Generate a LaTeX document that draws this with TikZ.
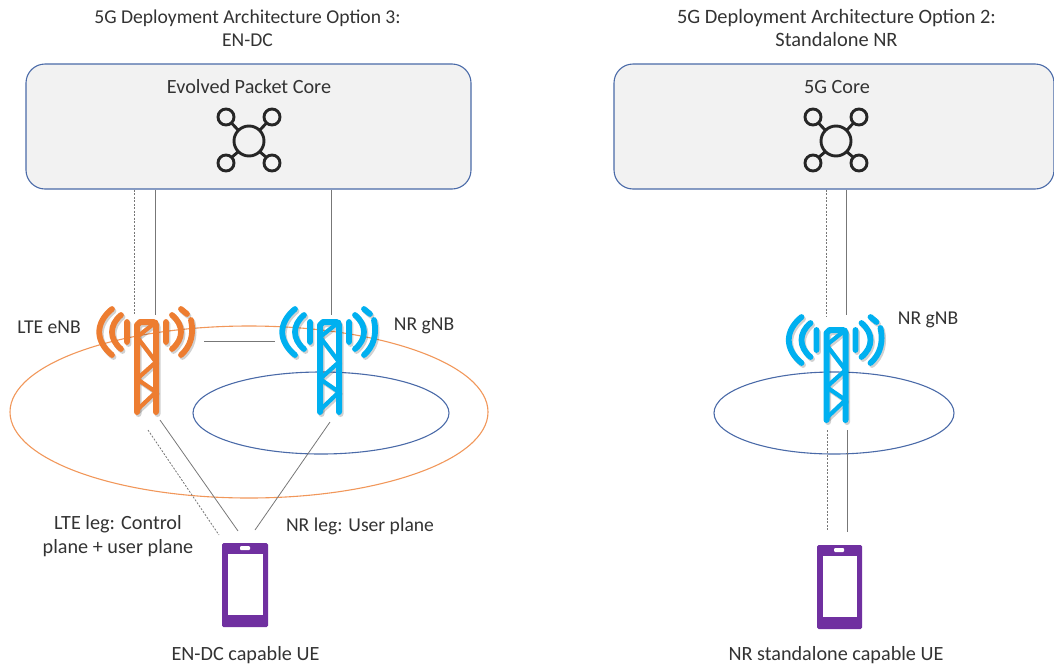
\documentclass[tikz,border=0pt]{standalone}
\usepackage{fontspec}
\setmainfont{Carlito}
\definecolor{boxfill}{HTML}{F2F2F2}
\definecolor{boxline}{HTML}{4A6AA8}
\definecolor{orangec}{HTML}{ED7D31}
\definecolor{bluec}{HTML}{00B0F0}
\definecolor{purplec}{HTML}{7030A0}
\definecolor{textc}{HTML}{333333}
\definecolor{linkc}{HTML}{777777}
\tikzset{
  x=1pt,y=-1pt,
  corebox/.style={draw=boxline,fill=boxfill,line width=1.1pt,rounded corners=19pt,inner sep=0pt},
  lab/.style={text=textc,font=\fontsize{19.6}{23}\selectfont,align=center,inner sep=0pt},
  labbig/.style={text=textc,font=\fontsize{20.2}{24.5}\selectfont,align=center,inner sep=0pt},
  labwide/.style={text=textc,font=\fontsize{20.4}{23}\selectfont,align=center,inner sep=0pt},
  cell/.style={line width=1.1pt},
  linksolid/.style={draw=linkc,line width=0.8pt},
  linkdash/.style={draw=linkc,line width=0.8pt,dash pattern=on 2pt off 1.5pt},
  anchorbox/.style={minimum width=100pt,minimum height=110pt,inner sep=0pt,draw=none,fill=none},
  phonebox/.style={fill=purplec,rounded corners=1.5pt,inner sep=0pt,minimum width=46pt,minimum height=84pt},
  pics/mesh/.style={code={
    \draw[line width=2.9pt,black!85]
      (0,0) circle[radius=15]
      (-23,-24) circle[radius=8] (23,-24) circle[radius=8]
      (-23,22) circle[radius=8] (23,22) circle[radius=8]
      (-10.5,-10.5) -- (-17.5,-18) (10.5,-10.5) -- (17.5,-18)
      (-10.5,10.5) -- (-17.5,16.5) (10.5,10.5) -- (17.5,16.5);
  }},
  pics/towerlines/.style={code={
    \draw[line width=6pt,line cap=round,line join=round,#1]
      (-10,90) -- (-10,3) -- (-7,0) -- (7,0) -- (9,3) -- (9,90);
    \draw[line width=4.2pt,line cap=round,line join=round,#1]
      (-10,15) -- (9,0) (-10,15) -- (9,40) -- (-10,57) -- (9,70) -- (-10,88);
    \draw[line width=5.8pt,line cap=round,line join=round,#1]
      (-20,0) -- (-20,20) (19,0) -- (19,20)
      (-26,-7) .. controls (-38,3) and (-38,17) .. (-26,27)
      (25,-7) .. controls (37,3) and (37,17) .. (25,27)
      (-35,-13) .. controls (-52,1) and (-52,19) .. (-35,33)
      (34,-13) -- (40,-8)
      (44,-2) .. controls (47,12) and (44,24) .. (34,33);
  }},
  pics/tower/.style={code={
    \begin{scope}[xshift=1.5pt,yshift=-2pt,opacity=.18]
      \pic {towerlines={black}};
    \end{scope}
    \pic {towerlines={#1}};
  }},
}
\begin{document}
\begin{tikzpicture}
\useasboundingbox (0,0) rectangle (1054,667);
% cell ellipses
\draw[cell,draw=orangec!80] (249,412) ellipse[x radius=239,y radius=86];
\draw[cell,draw=boxline] (321,413) ellipse[x radius=128,y radius=41];
\draw[cell,draw=boxline] (834,413) ellipse[x radius=120,y radius=41];
% titles
\node[lab] (titleL) at (247.5,28) {5G Deployment Architecture Option 3:\\EN-DC};
\node[labwide] (titleR) at (836.5,28) {5G Deployment Architecture Option 2:\\Standalone NR};
% core boxes
\node[corebox,minimum width=445pt,minimum height=125pt] (epc) at (248.5,126.5) {};
\node[corebox,minimum width=440pt,minimum height=125pt] (fgc) at (834,126.5) {};
\node[labbig] (epcT) at (249,87) {Evolved Packet Core};
\node[labbig] (fgcT) at (837,87) {5G Core};
\pic at (249,141) {mesh};
\pic at (836,141) {mesh};
% link end coordinates
\coordinate (a1) at (134,315); \coordinate (a2) at (155,315); \coordinate (a3) at (331,315);
\coordinate (b1) at (204,341); \coordinate (b2) at (275,341);
\coordinate (c1) at (148,430); \coordinate (c2) at (219,535);
\coordinate (d1) at (160,420); \coordinate (d2) at (238,531);
\coordinate (e1) at (330,422); \coordinate (e2) at (255,530);
\coordinate (f1) at (826,316); \coordinate (f2) at (846,315);
\coordinate (g1) at (827,430); \coordinate (g2) at (827,530);
\coordinate (h1) at (847,430); \coordinate (h2) at (847,532);
% links
\draw[linkdash] (a1 |- epc.south) -- (a1);
\draw[linksolid] (a2 |- epc.south) -- (a2);
\draw[linksolid] (a3 |- epc.south) -- (a3);
\draw[linksolid] (b1) -- (b2);
\draw[linkdash] (c1) -- (c2);
\draw[linksolid] (d1) -- (d2);
\draw[linksolid] (e1) -- (e2);
\draw[linkdash] (f1 |- fgc.south) -- (f1);
\draw[linksolid] (f2 |- fgc.south) -- (f2);
\draw[linkdash] (g1) -- (g2);
\draw[linksolid] (h1) -- (h2);
% towers
\node[anchorbox] (lte) at (147,370) {};
\node[anchorbox] (gnbL) at (330,370) {};
\node[anchorbox] (gnbR) at (836.5,370) {};
\pic at (147,322) {tower={orangec}};
\pic at (330,322) {tower={bluec}};
\pic at (836.5,330) {tower={bluec}};
% phones
\node[phonebox] (ueL) at (245,585) {};
\node[phonebox,minimum width=45pt] (ueR) at (839.5,587) {};
\fill[white] (228,554) rectangle (263,615);
\fill[white,rounded corners=1pt] (240,546) rectangle (250,550);
\fill[white] (823,556) rectangle (857,617);
\fill[white,rounded corners=1pt] (834,548) rectangle (844,552);
% labels
\node[lab] (l1) at (49,327) {LTE eNB};
\node[lab] (l2) at (424,326) {NR gNB};
\node[lab] (l3) at (928,320) {NR gNB};
\node[labbig] (l4) at (118,536) {LTE leg: Control\\plane + user plane};
\node[lab] (l5) at (360,526) {NR leg: User plane};
\node[labbig] (l6) at (245.5,655) {EN-DC capable UE};
\node[labbig] (l7) at (836,655) {NR standalone capable UE};
\end{tikzpicture}
\end{document}
